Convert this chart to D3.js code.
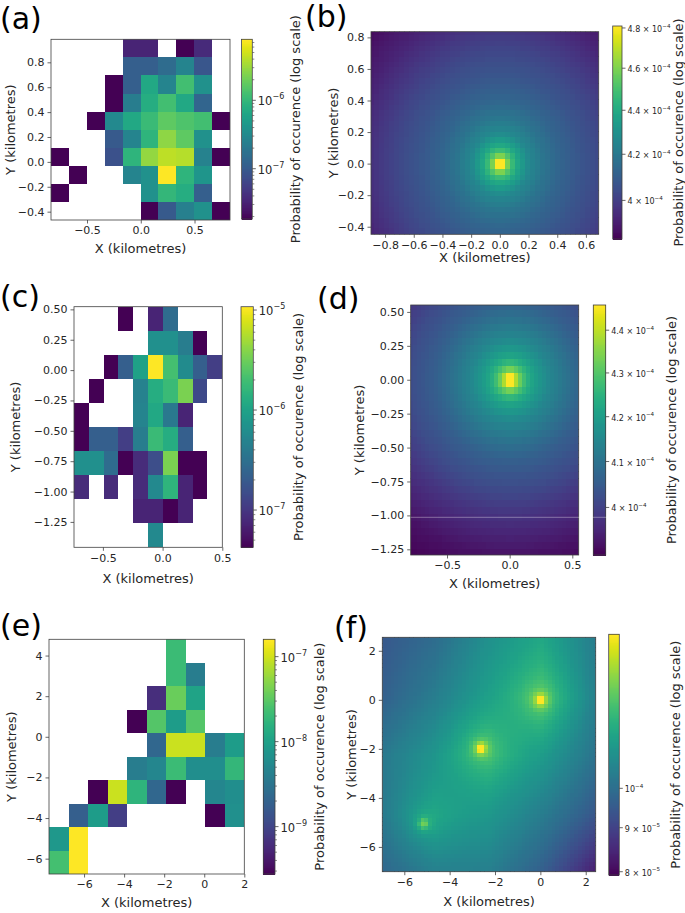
<!DOCTYPE html>
<html><head><meta charset="utf-8">
<script src="https://cdn.jsdelivr.net/npm/d3@7"></script>
<style>body{margin:0;background:#fff}svg{display:block}</style>
</head><body><svg id="c" width="685" height="913"></svg>
<script>
// ---------------- DATA ----------------
const N = null;
// (a) log10 probability per cell, rows top -> bottom, cols left -> right
const aLog10Prob = [
 [N,N,N,N,-7.47,-7.47,N,-7.73,-7.42,N],
 [N,N,N,N,-6.95,-6.95,-6.82,-6.55,-7.03,N],
 [N,N,N,-7.73,-6.95,-6.16,-6.55,-5.90,-6.42,N],
 [N,N,N,-7.73,-6.63,-6.11,-5.90,-6.16,-6.89,N],
 [N,N,-7.73,-6.50,-6.16,-5.95,-5.76,-5.84,-5.90,-7.73],
 [N,N,N,-7.00,-6.55,-6.03,-5.55,-5.76,-6.42,N],
 [-7.73,N,N,-7.08,-6.03,-5.53,-5.37,-5.40,-6.58,-7.73],
 [N,-7.73,N,N,-6.55,-6.42,-5.11,-6.03,-6.37,N],
 [-7.73,N,N,N,N,-6.42,-6.00,-6.11,-6.95,N],
 [N,N,N,N,N,-7.73,-7.00,-6.60,-6.42,-7.73]
];
const aXRange = [-0.835, 0.830], aYRange = [-0.467, 0.985];
const aCbRange = [1.84e-8, 7.8e-6];

// (c)
const cLog10Prob = [
 [N,N,N,-7.37,N,-7.13,-6.53,N,N,N],
 [N,N,N,N,N,-6.17,-6.17,-6.36,-7.37,N],
 [N,N,-7.37,-6.65,-6.00,-4.97,-5.69,-6.22,-6.65,-6.94],
 [N,-7.37,N,N,-6.31,-5.88,-5.74,-5.45,-6.84,N],
 [-7.37,N,N,N,-6.29,-5.93,-6.41,-7.13,N,N],
 [-7.37,-6.65,-6.65,-6.94,-6.36,-5.74,-5.88,-6.65,N,N],
 [-6.17,-6.17,-6.53,-7.37,-7.08,-6.80,-5.45,-7.37,-7.37,N],
 [-7.08,N,-7.08,N,-7.08,-6.24,-5.81,-7.13,-7.37,N],
 [N,N,N,N,-7.13,-7.13,-7.37,-7.13,N,N],
 [N,N,N,N,N,-6.24,N,N,N,N]
];
const cXRange = [-0.742, 0.5], cYRange = [-1.459, 0.522];
const cCbRange = [4.24e-8, 1.08e-5];

// (e)
const eLog10Prob = [
 [N,N,N,N,N,N,-7.68,N,N,N],
 [N,N,N,N,N,N,-7.68,-8.40,N,N],
 [N,N,N,N,N,-9.20,-7.43,-7.96,N,N],
 [N,N,N,N,-9.55,-7.54,-8.04,-7.54,N,N],
 [N,N,N,N,N,-8.65,-7.02,-7.02,-8.40,-8.04],
 [N,N,N,N,-8.40,-8.29,-7.68,-8.20,-8.20,-7.73],
 [N,N,-9.55,-7.02,-7.76,-8.65,-9.55,N,-8.29,-8.20],
 [N,-8.73,-8.04,-9.06,N,N,N,N,-9.55,-8.18],
 [-8.09,-6.80,N,N,N,N,N,N,N,N],
 [-7.62,-6.80,N,N,N,N,N,N,N,N]
];
const eXRange = [-7.75, 2.0], eYRange = [-6.755, 4.80];
const eCbRange = [2.77e-10, 1.60e-7];

// (b) radial profile around the source at (0,0): distance (km) -> probability
const bDist = [0, 0.025, 0.05, 0.08, 0.12, 0.2, 0.3, 0.4, 0.55, 0.7, 0.85, 1.0, 1.25];
const bProb = [4.81e-4, 4.808e-4, 4.617e-4, 4.494e-4, 4.394e-4, 4.267e-4, 4.191e-4, 4.134e-4, 4.079e-4, 4.033e-4, 3.979e-4, 3.926e-4, 3.858e-4];
const bXRange = [-0.898, 0.689], bYRange = [-0.448, 0.836];
const bCell = [0.035, 0.034];
const bCbRange = [3.84e-4, 4.81e-4];
const bCbTicks = [4.0e-4, 4.2e-4, 4.4e-4, 4.6e-4, 4.8e-4];

// (d)
const dDist = [0, 0.03, 0.06, 0.1, 0.15, 0.2, 0.3, 0.4, 0.5, 0.6, 0.8, 1.0, 1.3, 1.55];
const dProb = [4.46e-4, 4.46e-4, 4.371e-4, 4.295e-4, 4.237e-4, 4.203e-4, 4.153e-4, 4.119e-4, 4.086e-4, 4.058e-4, 4.020e-4, 3.977e-4, 3.923e-4, 3.899e-4];
const dXRange = [-0.79, 0.551], dYRange = [-1.292, 0.551];
const dCell = [0.032, 0.052];
const dCbRange = [3.899e-4, 4.46e-4];
const dCbTicks = [4.0e-4, 4.1e-4, 4.2e-4, 4.3e-4, 4.4e-4];

// (f) background probability sampled on a coarse grid + peaks at three sources
const fGridX = [-7, -4.65, -2.3, 0.05, 2.4];
const fGridY = [2.5, 0.13, -2.25, -4.63, -7];
const fBackground = [
 [9.44e-5, 9.94e-5, 10.94e-5, 11.67e-5, 10.40e-5],
 [9.62e-5, 10.40e-5, 11.40e-5, 12.20e-5, 10.53e-5],
 [10.26e-5, 11.10e-5, 12.00e-5, 11.30e-5, 10.13e-5],
 [10.26e-5, 11.40e-5, 11.20e-5, 10.40e-5, 9.44e-5],
 [9.81e-5, 10.46e-5, 10.46e-5, 9.62e-5, 8.35e-5]
];
const fSourceX = [0, -2.62, -5.16];
const fSourceY = [0, -1.95, -5.02];
const fSourceWeight = [1, 1, 0.55];
const fPeakDist = [0, 0.12, 0.25, 0.4, 0.6, 1.0, 1.5, 2.2];
const fPeakProb = [4.0e-5, 3.6e-5, 1.6e-5, 0.9e-5, 0.5e-5, 0.25e-5, 0.1e-5, 0];
const fXRange = [-6.97, 2.44], fYRange = [-7.01, 2.55];
const fCell = [0.165, 0.165];
const fCbRange = [7.93e-5, 1.51e-4];
const fCbTicks = [8e-5, 9e-5, 1e-4];

// ---------------- DRAWING ----------------
const FONT = "DejaVu Sans", TXT = "#262626", AX = "#404040";
const TICKFS = 11, LABFS = 13, LETFS = 30, SMALLFS = 8;
const svg = d3.select("#c");
let clipN = 0;

function gridCells(mat, xr, yr) {
  const nr = mat.length, nc = mat[0].length;
  const dx = (xr[1] - xr[0]) / nc, dy = (yr[1] - yr[0]) / nr;
  const out = [];
  mat.forEach((row, r) => row.forEach((v, c) => {
    if (v !== null) out.push({x0: xr[0] + c*dx, x1: xr[0] + (c+1)*dx, y1: yr[1] - r*dy, y0: yr[1] - (r+1)*dy, v: Math.pow(10, v)});
  }));
  return out;
}
function fieldCells(xr, yr, cell, fn) {
  const [dx, dy] = cell, out = [];
  for (let i = Math.floor(xr[0]/dx); i*dx < xr[1]; i++)
    for (let j = Math.floor(yr[0]/dy); j*dy < yr[1]; j++) {
      out.push({x0: i*dx, x1: (i+1)*dx, y0: j*dy, y1: (j+1)*dy, v: fn((i+0.5)*dx, (j+0.5)*dy), field: true});
    }
  return out;
}
function supLabel(sel, x, y, main, exp, fs) {
  const t = sel.append("text").attr("x", x).attr("y", y).attr("font-size", fs)
    .attr("font-family", FONT).attr("fill", TXT).attr("dominant-baseline", "central");
  t.append("tspan").text(main);
  t.append("tspan").attr("font-size", fs*0.7).attr("dy", -fs*0.42).text(exp);
}
function tickParts(v) {
  const e = Math.floor(Math.log10(v) + 1e-9);
  const m = v / Math.pow(10, e);
  const es = (e < 0 ? "\u2212" : "") + Math.abs(e);
  if (Math.abs(m - 1) < 1e-6) return ["10", es];
  return [d3.format("~g")(+m.toFixed(2)) + " \u00d7 10", es];
}

function panel(o) {
  const g = svg.append("g");
  const x = d3.scaleLinear().domain(o.xr).range([o.box[0], o.box[1]]);
  const y = d3.scaleLinear().domain(o.yr).range([o.box[3], o.box[2]]);
  const color = d3.scaleSequentialLog(d3.interpolateViridis).domain(o.cb).clamp(true);
  const id = "clip" + (clipN++);
  g.append("clipPath").attr("id", id).append("rect")
    .attr("x", o.box[0]).attr("y", o.box[2]).attr("width", o.box[1]-o.box[0]).attr("height", o.box[3]-o.box[2]);
  g.append("g").attr("clip-path", `url(#${id})`).attr("shape-rendering", "crispEdges")
    .selectAll("rect").data(o.cells).join("rect")
    .attr("x", d => x(d.x0)).attr("y", d => y(d.y1))
    .attr("width", d => x(d.x1) - x(d.x0) + (d.field ? 0.4 : 0))
    .attr("height", d => y(d.y0) - y(d.y1) + (d.field ? 0.4 : 0))
    .attr("fill", d => color(d.v));
  g.append("rect").attr("x", o.box[0]).attr("y", o.box[2]).attr("width", o.box[1]-o.box[0]).attr("height", o.box[3]-o.box[2])
    .attr("fill", "none").attr("stroke", AX).attr("stroke-width", 0.8);
  const ax = g.append("g").attr("transform", `translate(0,${o.box[3]})`)
    .call(d3.axisBottom(x).tickValues(o.xt).tickFormat(o.xf).tickSize(3.5).tickPadding(3));
  const ay = g.append("g").attr("transform", `translate(${o.box[0]},0)`)
    .call(d3.axisLeft(y).tickValues(o.yt).tickFormat(o.yf).tickSize(3.5).tickPadding(3));
  [ax, ay].forEach(a => {
    a.attr("font-family", FONT).attr("font-size", TICKFS);
    a.select(".domain").remove();
    a.selectAll("line").attr("stroke", AX).attr("stroke-width", 0.8);
    a.selectAll("text").attr("fill", TXT);
  });
  // axis labels
  const cy = (o.box[2] + o.box[3]) / 2, cx = (o.box[0] + o.box[1]) / 2;
  g.append("text").attr("x", cx).attr("y", o.xlabY).attr("text-anchor", "middle")
    .attr("font-family", FONT).attr("font-size", LABFS).attr("fill", TXT).text("X (kilometres)");
  g.append("text").attr("transform", `translate(${o.ylabX},${cy}) rotate(-90)`).attr("text-anchor", "middle")
    .attr("font-family", FONT).attr("font-size", LABFS).attr("fill", TXT).text("Y (kilometres)");
  // panel letter
  g.append("text").attr("x", o.letter[0]).attr("y", o.letter[1]).attr("font-family", FONT)
    .attr("font-size", LETFS).attr("fill", "#000").text(o.name);
  // colorbar
  const cbx = o.cbBox;
  const cs = d3.scaleLog().domain(o.cb).range([cbx[3], cbx[2]]);
  const nStrip = 240, sh = (cbx[3] - cbx[2]) / nStrip;
  g.append("g").attr("shape-rendering", "crispEdges").selectAll("rect").data(d3.range(nStrip)).join("rect")
    .attr("x", cbx[0]).attr("width", cbx[1]-cbx[0])
    .attr("y", i => cbx[3] - (i+1)*sh).attr("height", sh + 0.6)
    .attr("fill", i => d3.interpolateViridis((i + 0.5) / nStrip));
  g.append("rect").attr("x", cbx[0]).attr("y", cbx[2]).attr("width", cbx[1]-cbx[0]).attr("height", cbx[3]-cbx[2])
    .attr("fill", "none").attr("stroke", AX).attr("stroke-width", 0.8);
  const majors = (o.cbTicks || []).slice();
  let minors = [];
  if (o.cbMinor) {
    const lo = Math.floor(Math.log10(o.cb[0])), hi = Math.ceil(Math.log10(o.cb[1]));
    for (let k = lo; k <= hi; k++) for (let m = 1; m <= 9; m++) {
      const v = m * Math.pow(10, k);
      if (v >= o.cb[0] && v <= o.cb[1]) (m === 1 ? majors : minors).push(v);
    }
  }
  minors.forEach(v => g.append("line").attr("x1", cbx[1]).attr("x2", cbx[1] + 2)
    .attr("y1", cs(v)).attr("y2", cs(v)).attr("stroke", AX).attr("stroke-width", 0.6));
  majors.forEach(v => {
    g.append("line").attr("x1", cbx[1]).attr("x2", cbx[1] + 3.5)
      .attr("y1", cs(v)).attr("y2", cs(v)).attr("stroke", AX).attr("stroke-width", 0.8);
    const [m, e] = tickParts(v);
    supLabel(g, cbx[1] + 5.5, cs(v) + 1, m, e, o.cbFs);
  });
  g.append("text").attr("transform", `translate(${o.cbLabX},${(cbx[2]+cbx[3])/2}) rotate(-90)`).attr("text-anchor", "middle")
    .attr("font-family", FONT).attr("font-size", LABFS).attr("fill", TXT).text("Probability of occurence (log scale)");
  return g;
}

const f1 = d3.format(".1f"), f2 = d3.format(".2f"), f0 = d3.format("d");
const bProfile = d3.scaleLinear().domain(bDist).range(bProb).clamp(true);
const dProfile = d3.scaleLinear().domain(dDist).range(dProb).clamp(true);
const fPeak = d3.scaleLinear().domain(fPeakDist).range(fPeakProb).clamp(true);
const fIx = d3.scaleLinear().domain(fGridX).range(d3.range(fGridX.length)).clamp(true);
const fIy = d3.scaleLinear().domain(fGridY).range(d3.range(fGridY.length)).clamp(true);
function fField(px, py) {
  const fx = fIx(px), fy = fIy(py);
  const i = Math.min(Math.floor(fx), fGridX.length - 2), j = Math.min(Math.floor(fy), fGridY.length - 2);
  const tx = fx - i, ty = fy - j;
  const top = fBackground[j][i]*(1-tx) + fBackground[j][i+1]*tx;
  const bot = fBackground[j+1][i]*(1-tx) + fBackground[j+1][i+1]*tx;
  let v = top*(1-ty) + bot*ty;
  fSourceX.forEach((sx, k) => { v += fSourceWeight[k] * fPeak(Math.hypot(px - sx, py - fSourceY[k])); });
  return v;
}

panel({name: "(a)", letter: [0, 29], box: [51, 230, 39.3, 220], xr: aXRange, yr: aYRange,
  xt: [-0.5, 0, 0.5], yt: [-0.4, -0.2, 0, 0.2, 0.4, 0.6, 0.8], xf: f1, yf: f1,
  cells: gridCells(aLog10Prob, aXRange, aYRange), cb: aCbRange, cbMinor: true, cbFs: 11.5,
  cbBox: [241.5, 252.3, 39.3, 219], xlabY: 253, ylabX: 14.5, cbLabX: 299.5});
panel({name: "(b)", letter: [305, 27], box: [371, 598.7, 31.7, 234.3], xr: bXRange, yr: bYRange,
  xt: [-0.8, -0.6, -0.4, -0.2, 0, 0.2, 0.4, 0.6], yt: [-0.4, -0.2, 0, 0.2, 0.4, 0.6, 0.8], xf: f1, yf: f1,
  cells: fieldCells(bXRange, bYRange, bCell, (px, py) => bProfile(Math.hypot(px, py))),
  cb: bCbRange, cbTicks: bCbTicks, cbFs: SMALLFS,
  cbBox: [612.7, 622, 26, 239], xlabY: 262, ylabX: 338, cbLabX: 682.5});
panel({name: "(c)", letter: [0, 307], box: [74, 222.3, 306.7, 547.3], xr: cXRange, yr: cYRange,
  xt: [-0.5, 0, 0.5], yt: [-1.25, -1, -0.75, -0.5, -0.25, 0, 0.25, 0.5], xf: f1, yf: f2,
  cells: gridCells(cLog10Prob, cXRange, cYRange), cb: cCbRange, cbMinor: true, cbFs: 11.5,
  cbBox: [241, 253.3, 306.7, 547.3], xlabY: 583, ylabX: 19.5, cbLabX: 303});
panel({name: "(d)", letter: [317, 309], box: [410.7, 578.7, 305, 555], xr: dXRange, yr: dYRange,
  xt: [-0.5, 0, 0.5], yt: [-1.25, -1, -0.75, -0.5, -0.25, 0, 0.25, 0.5], xf: f1, yf: f2,
  cells: fieldCells(dXRange, dYRange, dCell, (px, py) => dProfile(Math.hypot(px, py))),
  cb: dCbRange, cbTicks: dCbTicks, cbFs: SMALLFS,
  cbBox: [593.3, 605.7, 305, 555], xlabY: 588, ylabX: 363.5, cbLabX: 675.5});
panel({name: "(e)", letter: [0, 636], box: [49, 244.3, 639.3, 874], xr: eXRange, yr: eYRange,
  xt: [-6, -4, -2, 0, 2], yt: [-6, -4, -2, 0, 2, 4], xf: f0, yf: f0,
  cells: gridCells(eLog10Prob, eXRange, eYRange), cb: eCbRange, cbMinor: true, cbFs: 11.5,
  cbBox: [263.3, 275, 639.3, 874], xlabY: 907, ylabX: 15.5, cbLabX: 323.5});
panel({name: "(f)", letter: [334, 638], box: [382.3, 595.7, 637.3, 871.7], xr: fXRange, yr: fYRange,
  xt: [-6, -4, -2, 0, 2], yt: [-6, -4, -2, 0, 2], xf: f0, yf: f0,
  cells: fieldCells(fXRange, fYRange, fCell, fField),
  cb: fCbRange, cbTicks: fCbTicks, cbFs: SMALLFS,
  cbBox: [608.7, 619.3, 634.3, 875], xlabY: 906, ylabX: 355.5, cbLabX: 680});

// faint scan line crossing panel (d)
svg.append("line").attr("x1", 410.7).attr("x2", 608).attr("y1", 517.3).attr("y2", 517.3)
  .attr("stroke", "rgba(255,255,255,0.35)").attr("stroke-width", 1);
</script></body></html>
